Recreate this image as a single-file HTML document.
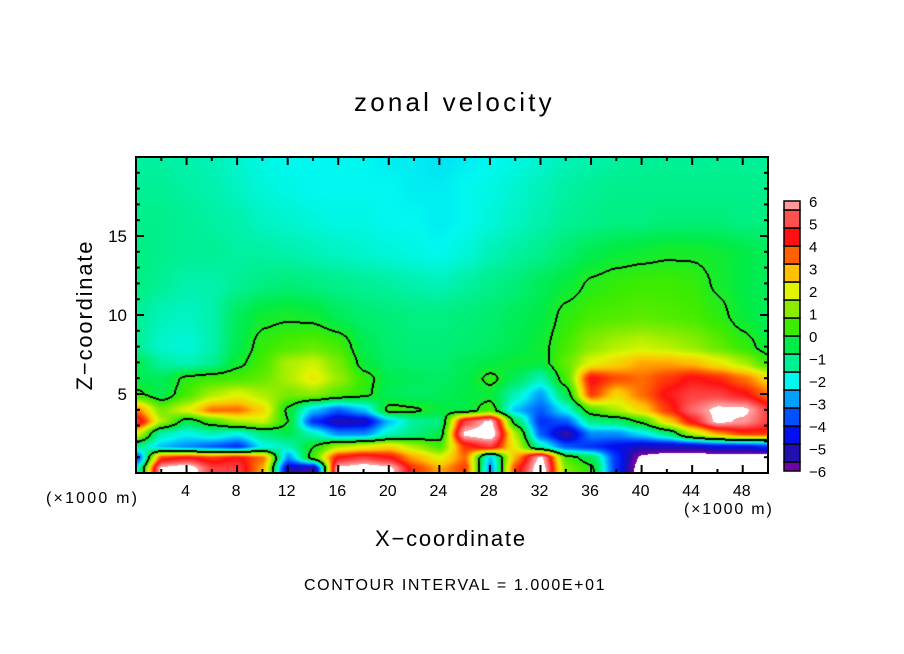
<!DOCTYPE html>
<html><head><meta charset="utf-8"><style>
body{margin:0;background:#fff;}
#wrap{position:relative;width:904px;height:654px;overflow:hidden;background:#fff;font-family:"Liberation Sans",sans-serif;}
.t{position:absolute;white-space:nowrap;color:#000;}
canvas{position:absolute;left:137px;top:158px;}
svg{position:absolute;left:0;top:0;}
</style></head><body>
<div id="wrap">
<div class="t" style="left:354px;top:87px;font-size:26px;letter-spacing:3.2px;">zonal velocity</div>
<div class="t" style="left:375px;top:526px;font-size:22px;letter-spacing:1.8px;">X−coordinate</div>
<div class="t" style="left:85px;top:315px;font-size:22px;letter-spacing:1.8px;transform:translate(-50%,-50%) rotate(-90deg);">Z−coordinate</div>
<div class="t" style="left:46px;top:490px;font-size:16px;letter-spacing:2.2px;">(×1000 m)</div>
<div class="t" style="left:684px;top:501px;font-size:16px;letter-spacing:1.8px;">(×1000 m)</div>
<div class="t" style="left:304px;top:577px;font-size:16px;letter-spacing:1.6px;">CONTOUR INTERVAL = 1.000E+01</div>
<canvas id="cv" width="631" height="315"></canvas>
<svg id="ov" width="904" height="654"></svg>
</div>
<script>
const xKm=[0,2,4,6,8,10,12,14,16,18,20,22,24,26,28,30,32,34,36,38,40,42,44,46,48,50];
const zLevels=[0.3,1,1.7,2.5,3.3,4,5,6,7,8,10,12,14,16,18,20];
const row0_3=[-2,6.5,7,5,5,3,-5,-5.5,6.5,7,6.5,4,3,4,-3,4,7,1,0.2,-4,-7,-7,-7,-7,-7,-7];
const row1=[-4,4,4.5,4,4.5,3.5,-3,0.5,4.5,5,4.5,3,2,3.5,-2.5,3,6.5,0.5,-0.5,-4,-6.5,-7,-7,-7,-7,-7];
const row1_7=[-1,-2.5,-3,-3.5,-4,-2,-1.5,0,1.5,2,2.5,1.5,0.5,4,5,2,-1.5,-3.5,-4,-4.5,-5,-5,-5,-4.5,-4.5,-4];
const row2_5=[2,-1.5,-2,-1.5,-2,-1,-0.5,-1.5,-3,-3,-1.6,-1,-0.5,6.5,7,1.5,-3.5,-5.5,-3,-3,-2.2,-1,1.5,3,4,4];
const row3_3=[5,1.5,-0.5,0.5,1.5,1.8,0,-4,-5.2,-5,-2.5,-1.2,-1,5,6.5,-0.5,-4,-3.5,-1,-0.8,0.2,2.5,4.5,6.5,6,5];
const row4=[3.5,1,2,3.5,3.5,2.5,-0.2,-2.5,-3.5,-2.5,0.3,0.1,-0.3,-0.5,0.5,-2.5,-3.5,-2,0.5,1.5,2.5,4,5.5,6.5,6.5,5];
const row5=[0.2,-0.5,0.5,1.5,2,1.5,1,1.2,0.6,0.2,-0.6,-0.7,-0.6,-0.4,-0.3,-1.5,-2.8,-0.5,4,2.5,3.5,4.5,5,5,4.5,3.5];
const row6=[-0.5,-0.6,0.2,0.4,0.5,0.8,1.5,2.2,1.3,0.3,-0.5,-0.6,-0.7,-0.5,0.2,-0.6,-1.5,0.5,4.5,3.8,3.5,4,4.5,4.2,3.5,2.5];
const row7=[-0.5,-1.3,-1.5,-1.2,-0.2,0.5,1.5,1.8,1.0,-0.3,-0.7,-0.8,-0.8,-0.6,-0.4,-0.2,-0.3,0.8,2,2.5,3,3,2.8,2.2,1.5,0.3];
const row8=[-1.2,-1.7,-1.8,-1.4,-0.5,0.3,0.6,0.8,0.5,-0.5,-0.8,-0.9,-0.9,-0.8,-0.7,-0.5,-0.2,0.5,1.2,1.6,1.8,1.6,1.3,0.8,0.3,-0.3];
const row10=[-1.2,-1.5,-1.6,-1.4,-0.6,-0.2,-0.1,-0.2,-0.6,-0.8,-0.9,-1,-1,-0.9,-0.8,-0.6,-0.4,0.2,0.5,0.6,0.7,0.6,0.5,0.2,-0.3,-0.6];
const row12=[-1,-1.2,-1.4,-1.4,-1.2,-1,-0.9,-1,-1.1,-1.2,-1.3,-1.4,-1.5,-1.3,-1.1,-0.9,-0.6,-0.3,0.1,0.3,0.4,0.4,0.3,-0.1,-0.4,-0.6];
const row14=[-1,-1.1,-1.2,-1.2,-1.3,-1.3,-1.4,-1.5,-1.6,-1.7,-1.8,-1.9,-2,-1.8,-1.5,-1.3,-1.1,-0.8,-0.5,-0.3,-0.2,-0.1,-0.1,-0.2,-0.4,-0.6];
const row16=[-1.1,-1.1,-1.2,-1.3,-1.4,-1.6,-1.7,-1.8,-1.9,-1.9,-2,-2,-2.1,-2,-1.8,-1.6,-1.4,-1.2,-1.1,-1,-1,-0.9,-0.9,-0.9,-1,-1];
const row18=[-1.2,-1.2,-1.3,-1.4,-1.6,-1.8,-1.9,-2,-2,-2,-2,-2.1,-2.1,-2,-1.9,-1.7,-1.5,-1.3,-1.2,-1.1,-1.1,-1.1,-1.1,-1.1,-1.1,-1.1];
const row20=[-1.3,-1.3,-1.4,-1.5,-1.7,-1.9,-2,-2,-2,-2,-2.1,-2.1,-2.2,-2.1,-2,-1.9,-1.7,-1.5,-1.4,-1.3,-1.2,-1.2,-1.2,-1.2,-1.2,-1.2];
const xTickLabels=["4","8","12","16","20","24","28","32","36","40","44","48"];
const zTickLabels=["5","10","15"];
const cbarLabels=["6","5","4","3","2","1","0","−1","−2","−3","−4","−5","−6"];
const rows=[row0_3,row1,row1_7,row2_5,row3_3,row4,row5,row6,row7,row8,row10,row12,row14,row16,row18,row20];

const X0=136,X1=768,Y0=157,Y1=473;
const xs=k=>X0+(k/50)*(X1-X0);
const zs=z=>Y1-(z/20)*(Y1-Y0);
const cols=[[112,0,168],[32,16,176],[0,16,240],[0,80,255],[0,160,255],[0,248,240],[0,240,150],[0,236,70],[60,236,0],[140,236,0],[225,245,0],[255,192,0],[255,96,0],[255,16,16],[255,80,80],[255,152,152]];
function colorOf(v){
  if(v>6.2||v<-6.2)return [255,255,255];
  let t=(v+6)/0.8; t=Math.max(0,Math.min(15,t));
  const i=Math.min(14,Math.floor(t)),f=t-i;
  return cols[i].map((c,j)=>Math.round(c+(cols[i+1][j]-c)*f));
}
function val(xk,zk){
  let i=Math.min(xKm.length-2,Math.floor(xk/2)); if(i<0)i=0;
  let fx=(xk-xKm[i])/(xKm[i+1]-xKm[i]); fx=Math.max(0,Math.min(1,fx));
  let j=0; while(j<zLevels.length-2&&zk>zLevels[j+1])j++;
  let fz=(zk-zLevels[j])/(zLevels[j+1]-zLevels[j]); fz=Math.max(0,Math.min(1,fz));
  fx=fx*fx*(3-2*fx)*0.5+fx*0.5; fz=fz*fz*(3-2*fz)*0.5+fz*0.5;
  const a=rows[j][i],b=rows[j][i+1],c=rows[j+1][i],d=rows[j+1][i+1];
  return (a*(1-fx)+b*fx)*(1-fz)+(c*(1-fx)+d*fx)*fz;
}
const cv=document.getElementById('cv'),ctx=cv.getContext('2d');
const W=cv.width,H=cv.height,img=ctx.createImageData(W,H);
const F=new Float32Array(W*H);
for(let y=0;y<H;y++)for(let x=0;x<W;x++){
  const xk=(x+137-X0)/(X1-X0)*50, zk=(Y1-(y+158))/(Y1-Y0)*20;
  F[y*W+x]=val(xk,zk);
}
const sg=(x,y)=>F[Math.min(H-1,Math.max(0,y))*W+Math.min(W-1,Math.max(0,x))]>0;
for(let y=0;y<H;y++)for(let x=0;x<W;x++){
  const v=F[y*W+x];let c=colorOf(v);
  const s=v>0;
  if(sg(x+1,y)!==s||sg(x,y+1)!==s||sg(x-1,y)!==s||sg(x,y-1)!==s)c=[0,0,0];
  const k=(y*W+x)*4;img.data[k]=c[0];img.data[k+1]=c[1];img.data[k+2]=c[2];img.data[k+3]=255;
}
ctx.putImageData(img,0,0);

const NS='http://www.w3.org/2000/svg',ov=document.getElementById('ov');
function el(tag,attrs){const e=document.createElementNS(NS,tag);for(const k in attrs)e.setAttribute(k,attrs[k]);ov.appendChild(e);return e;}
const frame=el('rect',{x:X0,y:Y0,width:X1-X0,height:Y1-Y0,fill:'none',stroke:'#000','stroke-width':2});


for(let k=2;k<50;k+=2){
  const L=k%4===0?8:4,x=xs(k);
  const t1=el('line',{x1:x,y1:Y1,x2:x,y2:Y1-L,stroke:'#000','stroke-width':2});
  
  
  const t2=el('line',{x1:x,y1:Y0,x2:x,y2:Y0+L,stroke:'#000','stroke-width':2});
  
  
}
xTickLabels.forEach(s=>{
  const t=el('text',{x:xs(+s)-1,y:496,'text-anchor':'middle','font-size':16,'font-family':'Liberation Sans, sans-serif'});
  t.textContent=s;
  
  
});
for(let z=1;z<20;z++){
  const L=z%5===0?8:4,y=zs(z);
  const a=el('line',{x1:X0,y1:y,x2:X0+L,y2:y,stroke:'#000','stroke-width':2});
  
  
  const b=el('line',{x1:X1,y1:y,x2:X1-L,y2:y,stroke:'#000','stroke-width':2});
  
  
}
zTickLabels.forEach(s=>{
  const t=el('text',{x:127,y:zs(+s)+6,'text-anchor':'end','font-size':17,'font-family':'Liberation Sans, sans-serif'});
  t.textContent=s;
  
  
});
const CB0=201,CB1=471,cbx=784,cbw=16,n=cols.length;
const unit=(CB1-CB0)/(n-1);
for(let i=0;i<n;i++){
  const top=i===n-1?CB0:CB1-(i+0.5)*unit, bot=i===0?CB1:CB1-(i-0.5)*unit;
  const c=cols[i];
  const r=el('rect',{x:cbx,y:top,width:cbw,height:bot-top,fill:`rgb(${c[0]},${c[1]},${c[2]})`,stroke:'#000','stroke-width':1.5});
  
  
}
cbarLabels.forEach((s,i)=>{
  const y=CB0+i*(CB1-CB0)/(cbarLabels.length-1);
  const t=el('text',{x:809,y:y+6,'font-size':15,'font-family':'Liberation Sans, sans-serif'});
  t.textContent=s;
  
  
});
</script>
</body></html>
